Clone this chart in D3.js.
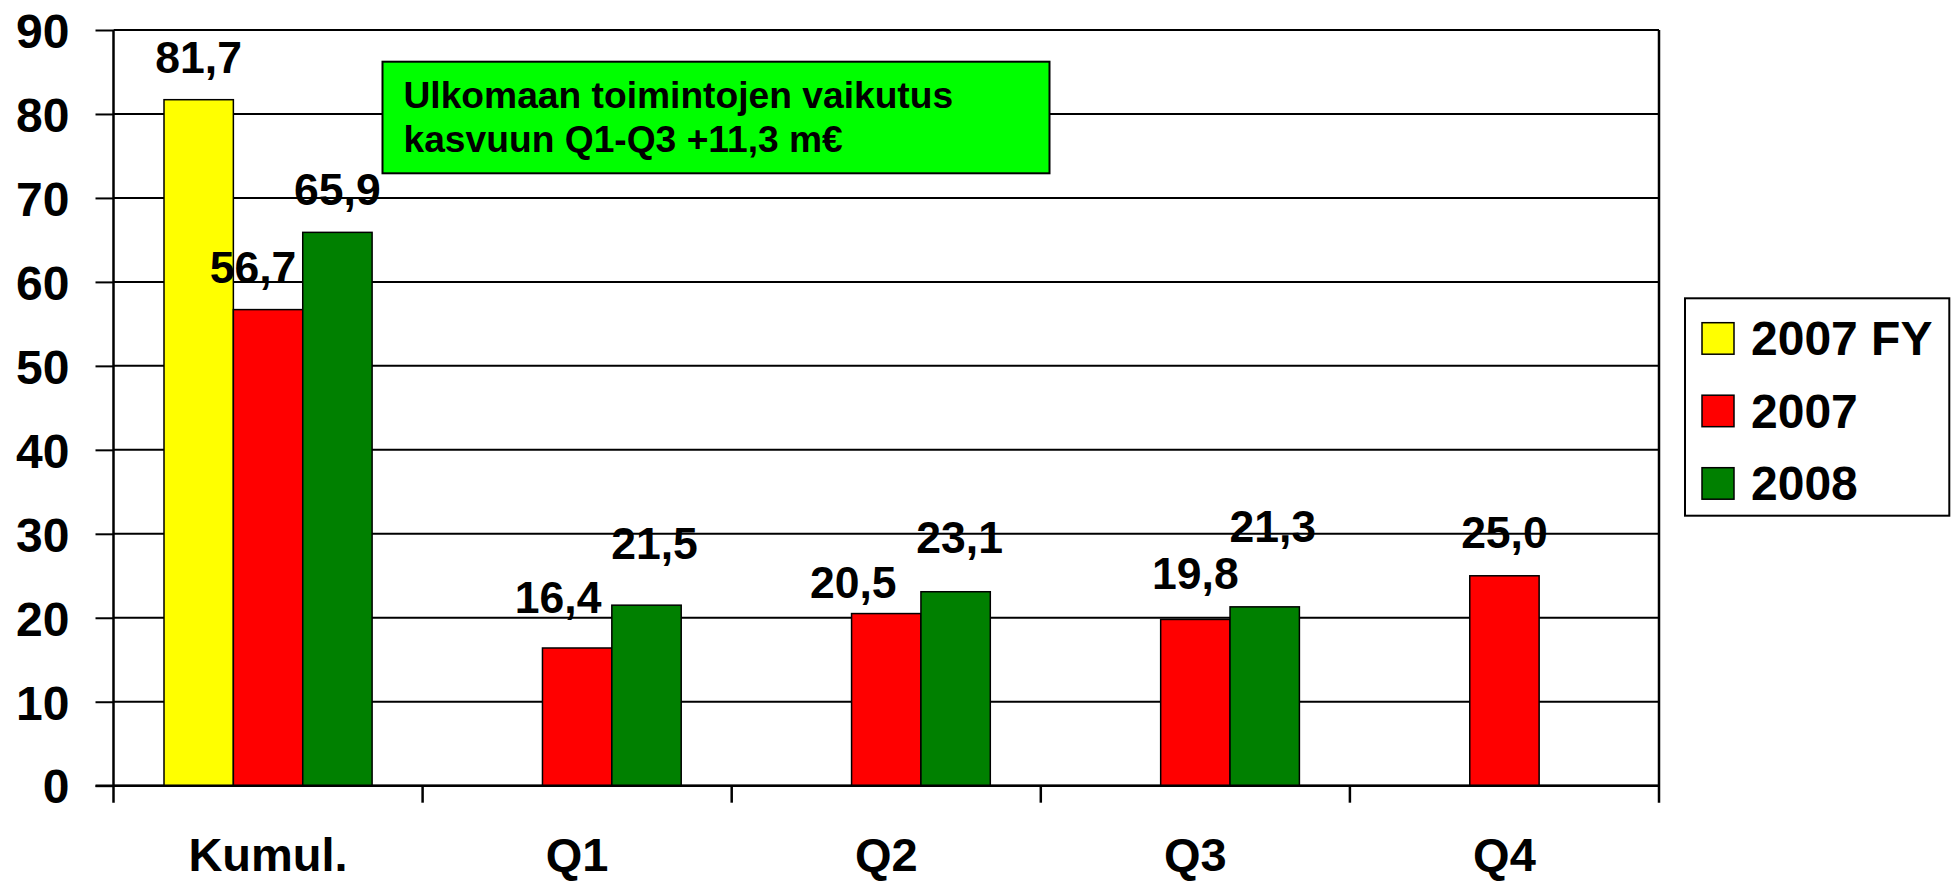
<!DOCTYPE html>
<html>
<head>
<meta charset="utf-8">
<script src="https://cdn.jsdelivr.net/npm/d3@7"></script>
<style>
body { margin: 0; background: #fff; }
svg { display: block; font-family: "Liberation Sans", Arial, sans-serif; font-weight: bold; }
</style>
</head>
<body>
<svg width="1959" height="882"></svg>
<script>
// categories and series
let categories = ["Kumul.", "Q1", "Q2", "Q3", "Q4"];
let seriesNames = ["2007 FY", "2007", "2008"];
let seriesColors = ["#ffff00", "#ff0000", "#008000"];
let values2007FY = [81.7, null, null, null, null];
let values2007 = [56.7, 16.4, 20.5, 19.8, 25.0];
let values2008 = [65.9, 21.5, 23.1, 21.3, null];
let yTicks = [0, 10, 20, 30, 40, 50, 60, 70, 80, 90];
let noteLines = ["Ulkomaan toimintojen vaikutus", "kasvuun Q1-Q3 +11,3 m€"];

// label nudges (px) for the hand-placed value labels, per series / category
let labelNudges = [
	[[0, 0], null, null, null, null],
	[[-15, 0], [-19, -8], [-33, 11], [0, -3], [0, -1]],
	[[0, 0], [8, -19], [4, -12], [8, -38], null]
];

let allSeries = [values2007FY, values2007, values2008];
let data = [];
allSeries.forEach(function(vals, si) {
	vals.forEach(function(v, ci) {
		if (v !== null) data.push({cat: categories[ci], series: seriesNames[si], si: si, ci: ci, value: v});
	});
});

let svg = d3.select("svg");
let plotLeft = 113.5, plotRight = 1659, plotTop = 30, plotBottom = 785.7;

let x0 = d3.scaleBand().domain(categories).range([plotLeft, plotRight]);
let bw = x0.bandwidth();
let x1 = d3.scaleBand().domain(seriesNames).range([50.5, bw - 50.5]);
let y = d3.scaleLinear().domain([0, 90]).range([plotBottom, plotTop]);

//Gitterlinien
svg.append("g").selectAll("line")
	.data(yTicks)
	.enter().append("line")
		.attr("x1", plotLeft).attr("x2", plotRight)
		.attr("y1", function(d) {return y(d);})
		.attr("y2", function(d) {return y(d);})
		.attr("stroke", "#000").attr("stroke-width", 2);

//rechter Rand
svg.append("line")
	.attr("x1", plotRight).attr("x2", plotRight)
	.attr("y1", plotTop).attr("y2", plotBottom + 17)
	.attr("stroke", "#000").attr("stroke-width", 2.5);

//y-Achse
let yaxis = d3.axisLeft(y).tickValues(yTicks).tickSize(18).tickPadding(26).tickFormat(d3.format("d"));
let gy = svg.append("g")
	.attr("transform", "translate(" + plotLeft + ",0)")
	.call(yaxis);
gy.select(".domain").remove();
gy.selectAll(".tick line").attr("stroke", "#000").attr("stroke-width", 2);
gy.selectAll(".tick text")
	.attr("font-size", 48)
	.attr("font-family", "Liberation Sans, Arial, sans-serif")
	.attr("font-weight", "bold")
	.attr("fill", "#000")
	.attr("dy", "0.36em");
svg.append("line")
	.attr("x1", plotLeft).attr("x2", plotLeft)
	.attr("y1", plotTop).attr("y2", plotBottom + 17)
	.attr("stroke", "#000").attr("stroke-width", 2.5);

//Kategorie-Trennstriche
svg.append("g").selectAll("line")
	.data(categories.slice(1))
	.enter().append("line")
		.attr("x1", function(d) {return x0(d);})
		.attr("x2", function(d) {return x0(d);})
		.attr("y1", plotBottom).attr("y2", plotBottom + 17)
		.attr("stroke", "#000").attr("stroke-width", 2.5);

//Balken
svg.append("g").selectAll("rect")
	.data(data)
	.enter().append("rect")
		.attr("x", function(d) {return x0(d.cat) + x1(d.series);})
		.attr("y", function(d) {return y(d.value);})
		.attr("width", x1.bandwidth())
		.attr("height", function(d) {return plotBottom - y(d.value);})
		.attr("fill", function(d) {return seriesColors[d.si];})
		.attr("stroke", "#000").attr("stroke-width", 1.5);

//x-Achse
svg.append("line")
	.attr("x1", plotLeft - 18).attr("x2", plotRight)
	.attr("y1", plotBottom).attr("y2", plotBottom)
	.attr("stroke", "#000").attr("stroke-width", 2.5);

svg.append("g").selectAll("text")
	.data(categories)
	.enter().append("text")
		.attr("x", function(d) {return x0(d) + bw / 2;})
		.attr("y", 871)
		.attr("text-anchor", "middle")
		.attr("font-size", 47)
		.text(function(d) {return d;});

//Werte
let fmt = function(v) {return d3.format(".1f")(v).replace(".", ",");};
svg.append("g").selectAll("text")
	.data(data)
	.enter().append("text")
		.attr("x", function(d) {return x0(d.cat) + x1(d.series) + x1.bandwidth() / 2 + labelNudges[d.si][d.ci][0];})
		.attr("y", function(d) {return y(d.value) - 27 + labelNudges[d.si][d.ci][1];})
		.attr("text-anchor", "middle")
		.attr("font-size", 44.5)
		.text(function(d) {return fmt(d.value);});

//Hinweisbox
svg.append("rect")
	.attr("x", 382.5).attr("y", 61.7)
	.attr("width", 667).attr("height", 111.6)
	.attr("fill", "#00ff00")
	.attr("stroke", "#000").attr("stroke-width", 2);
svg.append("g").selectAll("text")
	.data(noteLines)
	.enter().append("text")
		.attr("x", 403.5)
		.attr("y", function(d, i) {return 108 + i * 44;})
		.attr("font-size", 37.2)
		.text(function(d) {return d;});

//Legende
let legend = svg.append("g");
legend.append("rect")
	.attr("x", 1685).attr("y", 298.3)
	.attr("width", 264.3).attr("height", 217.4)
	.attr("fill", "#fff")
	.attr("stroke", "#000").attr("stroke-width", 2);
let items = legend.selectAll(".item")
	.data(seriesNames)
	.enter().append("g")
		.attr("class", "item")
		.attr("transform", function(d, i) {return "translate(1702," + (322.7 + i * 72.5) + ")";});
items.append("rect")
	.attr("width", 32).attr("height", 31.5)
	.attr("fill", function(d, i) {return seriesColors[i];})
	.attr("stroke", "#000").attr("stroke-width", 1.5);
items.append("text")
	.attr("x", 49).attr("y", 32.5)
	.attr("font-size", 48)
	.text(function(d) {return d;});
</script>
</body>
</html>
